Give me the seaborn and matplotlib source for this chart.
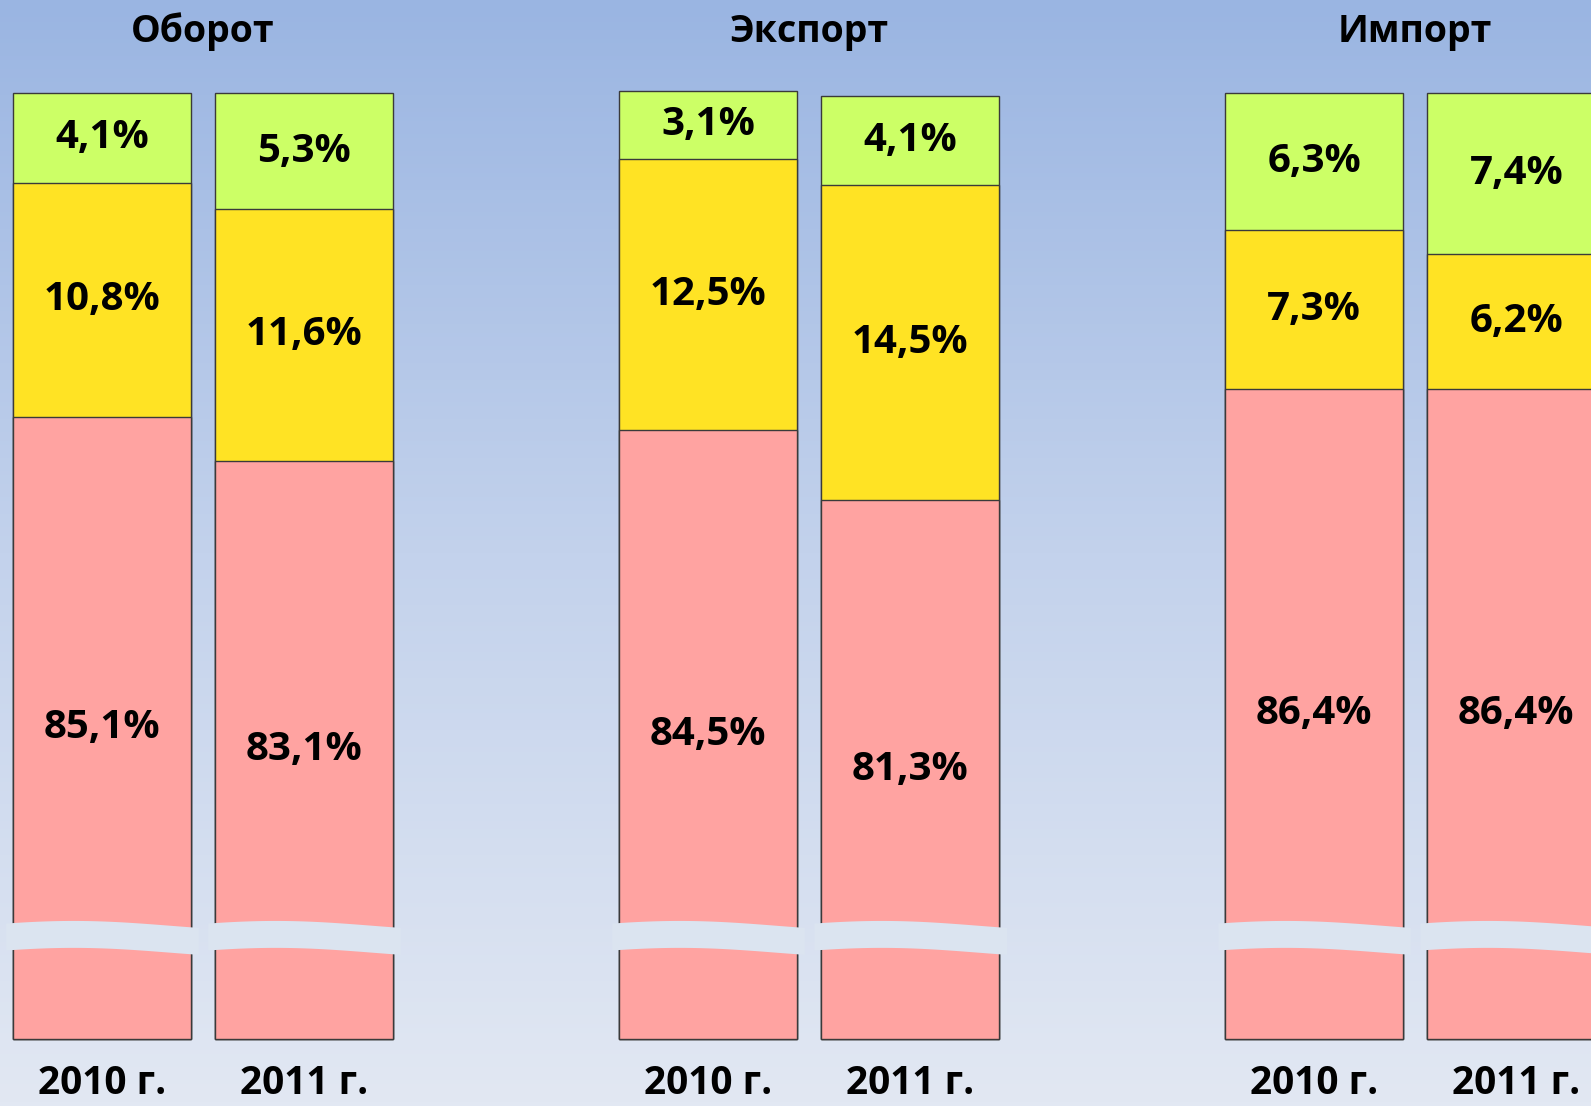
import numpy as np
import pandas as pd
import matplotlib
matplotlib.use('Agg')
import matplotlib.pyplot as plt
from matplotlib.colors import LinearSegmentedColormap
import matplotlib.transforms as mtransforms
import seaborn as sns

# данные (доли, %)
groups = ['Оборот', 'Экспорт', 'Импорт']
years = ['2010 г.', '2011 г.']
red_share = [85.1, 83.1, 84.5, 81.3, 86.4, 86.4]
yellow_share = [10.8, 11.6, 12.5, 14.5, 7.3, 6.2]
green_share = [4.1, 5.3, 3.1, 4.1, 6.3, 7.4]

df = pd.DataFrame({
    'group': [g for g in groups for _ in years],
    'year': years * len(groups),
    'red': red_share,
    'yellow': yellow_share,
    'green': green_share,
})
df['cum_yellow'] = df['red'] + df['yellow']
df['total'] = df['cum_yellow'] + df['green']

# цвета
c_green = '#ccff66'
c_yellow = '#ffe324'
c_red = '#ffa3a1'
c_edge = '#3a3a3a'
c_band = '#dbe4f0'

FLOOR = 56.5          # нижняя граница (разрыв шкалы)
BAND_Y = 61.1         # положение волнистой линии разрыва

sns.set_style('white')
plt.rcParams['font.family'] = ['Open Sans', 'DejaVu Sans']
plt.rcParams['font.weight'] = 'bold'
plt.rcParams['text.color'] = 'black'

fig = plt.figure(figsize=(15.91, 11.06), dpi=100)

# фон - градиент
bg = fig.add_axes([0, 0, 1, 1], zorder=0)
cmap = LinearSegmentedColormap.from_list('bg', ['#9ab5e2', '#c3d2ec', '#e2e8f3'])
bg.imshow(np.linspace(0, 1, 256).reshape(-1, 1), aspect='auto', cmap=cmap, extent=[0, 1, 0, 1])
bg.axis('off')

ax = fig.add_axes([0, 0, 1, 1], zorder=1)
ax.patch.set_alpha(0)

layers = [('total', c_green), ('cum_yellow', c_yellow), ('red', c_red)]
for col, color in layers:
    sns.barplot(data=df, x='group', y=col, hue='year', order=groups, hue_order=years,
                palette=[color, color], saturation=1, width=0.667, gap=0.119, dodge=True,
                edgecolor=c_edge, linewidth=1.0, legend=False, ax=ax)

# столбцы начинаются от линии разрыва
for p in ax.patches:
    top = p.get_y() + p.get_height()
    p.set_y(FLOOR)
    p.set_height(top - FLOOR)

ax.set_xlim(-0.335, 2.290)
ax.set_ylim(53.4, 104.3)
ax.axis('off')

fmt = lambda v: f'{v:.1f}'.replace('.', ',') + '%'
trans = mtransforms.blended_transform_factory(ax.transData, ax.transAxes)

for j, year in enumerate(years):
    red_bars = ax.containers[4 + j]
    sub = df[df['year'] == year].set_index('group').loc[groups]
    for i, g in enumerate(groups):
        rb = red_bars[i]
        xc = rb.get_x() + rb.get_width() / 2
        r, cy, tot = sub.loc[g, 'red'], sub.loc[g, 'cum_yellow'], sub.loc[g, 'total']
        ax.text(xc, (tot + cy) / 2, fmt(sub.loc[g, 'green']), ha='center', va='center', fontsize=29, zorder=5)
        ax.text(xc, (cy + r) / 2, fmt(sub.loc[g, 'yellow']), ha='center', va='center', fontsize=29, zorder=5)
        ax.text(xc, (r + FLOOR) / 2, fmt(r), ha='center', va='center', fontsize=29, zorder=5)
        ax.text(xc, 0.003, year, transform=trans, ha='center', va='bottom', fontsize=28, zorder=5)

        # волнистая линия разрыва
        pad = 0.012
        xs = np.linspace(rb.get_x() - pad, rb.get_x() + rb.get_width() + pad, 80)
        t = np.linspace(0, 1, 80)
        yc = BAND_Y + 0.22 * np.sin(np.pi * (t + 0.15))
        ax.fill_between(xs, yc - 0.62, yc + 0.62, color=c_band, lw=0, zorder=4)

for i, g in enumerate(groups):
    ax.text(i, 0.971, g, transform=trans, ha='center', va='center', fontsize=27, zorder=5)

fig.savefig('out.png', dpi=100)
